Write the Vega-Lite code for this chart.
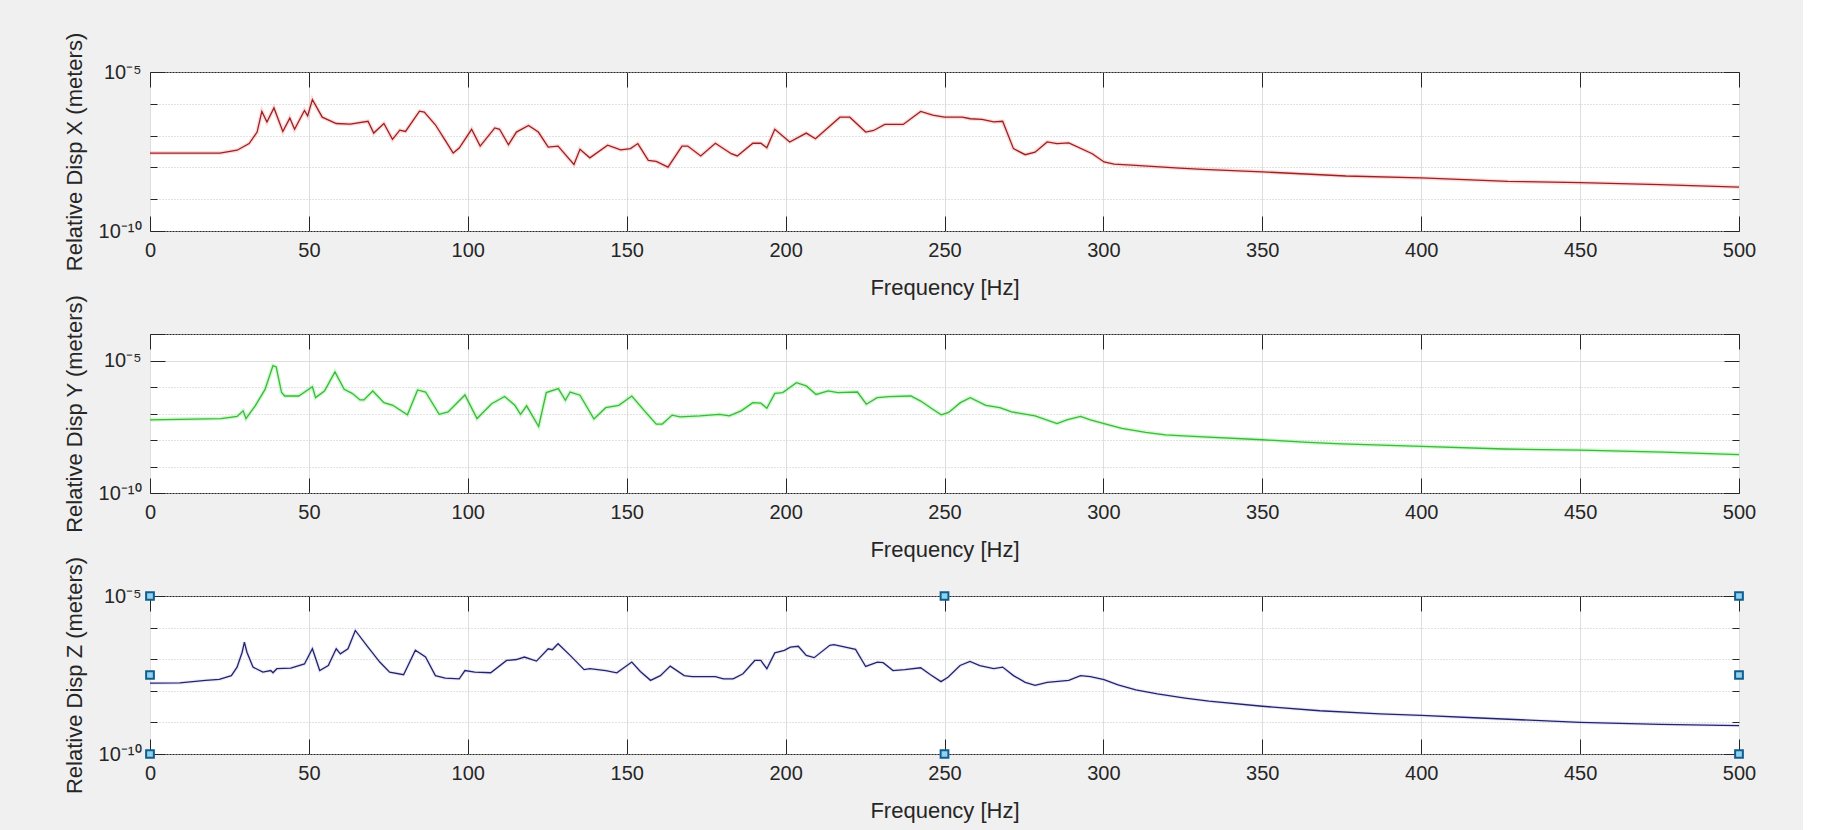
{
  "$schema": "https://vega.github.io/schema/vega-lite/v6.json",
  "background": "#f0f0f0",
  "padding": {"left": 62, "top": 31, "right": 46, "bottom": 12},
  "bounds": "flush",
  "spacing": 103,
  "datasets": {
    "red": [
      {"f":0,"v":2.82e-8},{"f":22,"v":2.82e-8},{"f":27.4,"v":3.47e-8},{"f":31.2,"v":5.62e-8},{"f":33.7,"v":1.29e-7},{"f":35.2,"v":5.75e-7},{"f":36.8,"v":2.69e-7},{"f":39.0,"v":7.41e-7},{"f":41.8,"v":1.35e-7},{"f":44.0,"v":3.55e-7},{"f":45.5,"v":1.58e-7},{"f":48.6,"v":6.17e-7},{"f":49.6,"v":4.17e-7},{"f":51.1,"v":1.35e-6},{"f":54.2,"v":3.80e-7},{"f":58.6,"v":2.40e-7},{"f":63.0,"v":2.29e-7},{"f":68.6,"v":2.82e-7},{"f":70.4,"v":1.20e-7},{"f":73.6,"v":2.40e-7},{"f":76.3,"v":7.59e-8},{"f":78.6,"v":1.48e-7},{"f":80.4,"v":1.35e-7},{"f":84.8,"v":5.89e-7},{"f":86.3,"v":5.50e-7},{"f":89.8,"v":2.19e-7},{"f":92.9,"v":7.08e-8},{"f":95.4,"v":2.82e-8},{"f":97.3,"v":4.07e-8},{"f":101.2,"v":1.58e-7},{"f":103.9,"v":4.68e-8},{"f":108.5,"v":1.74e-7},{"f":110.0,"v":1.58e-7},{"f":112.8,"v":5.13e-8},{"f":115.3,"v":1.29e-7},{"f":119.1,"v":2.09e-7},{"f":122.2,"v":1.29e-7},{"f":125.3,"v":4.37e-8},{"f":128.4,"v":4.68e-8},{"f":133.4,"v":1.23e-8},{"f":135.3,"v":3.72e-8},{"f":138.4,"v":2.00e-8},{"f":144.0,"v":5.01e-8},{"f":148.1,"v":3.55e-8},{"f":151.2,"v":3.89e-8},{"f":153.5,"v":5.62e-8},{"f":156.8,"v":1.66e-8},{"f":159.3,"v":1.55e-8},{"f":163.0,"v":1.02e-8},{"f":167.4,"v":4.68e-8},{"f":169.2,"v":4.68e-8},{"f":173.3,"v":2.29e-8},{"f":177.9,"v":5.75e-8},{"f":182.9,"v":2.69e-8},{"f":184.8,"v":2.29e-8},{"f":189.7,"v":5.75e-8},{"f":192.2,"v":5.75e-8},{"f":194.1,"v":4.17e-8},{"f":196.6,"v":1.58e-7},{"f":201.3,"v":6.31e-8},{"f":206.5,"v":1.20e-7},{"f":209.4,"v":7.94e-8},{"f":217.1,"v":3.80e-7},{"f":220.2,"v":3.80e-7},{"f":225.2,"v":1.29e-7},{"f":227.7,"v":1.45e-7},{"f":231.2,"v":2.24e-7},{"f":237.0,"v":2.24e-7},{"f":242.5,"v":5.75e-7},{"f":246.3,"v":4.37e-7},{"f":250.0,"v":3.80e-7},{"f":255.6,"v":3.80e-7},{"f":258.1,"v":3.39e-7},{"f":261.8,"v":3.24e-7},{"f":265.5,"v":2.69e-7},{"f":268.3,"v":2.82e-7},{"f":271.7,"v":3.89e-8},{"f":275.4,"v":2.51e-8},{"f":278.5,"v":3.02e-8},{"f":282.3,"v":6.31e-8},{"f":285.4,"v":5.62e-8},{"f":289.1,"v":5.89e-8},{"f":296.5,"v":2.69e-8},{"f":300.2,"v":1.48e-8},{"f":303.4,"v":1.26e-8},{"f":310.2,"v":1.15e-8},{"f":323.9,"v":9.55e-9},{"f":331.3,"v":8.71e-9},{"f":350,"v":7.24e-9},{"f":376.3,"v":5.37e-9},{"f":400,"v":4.68e-9},{"f":427.3,"v":3.63e-9},{"f":450,"v":3.31e-9},{"f":475.1,"v":2.88e-9},{"f":500,"v":2.40e-9}
    ],
    "green": [
      {"f":0,"v":5.75e-8},{"f":22.4,"v":6.46e-8},{"f":27.4,"v":7.76e-8},{"f":29.3,"v":1.26e-7},{"f":30.2,"v":6.46e-8},{"f":33.1,"v":1.95e-7},{"f":36.2,"v":8.13e-7},{"f":38.7,"v":6.46e-6},{"f":39.7,"v":5.75e-6},{"f":41.4,"v":6.17e-7},{"f":42.4,"v":4.57e-7},{"f":46.8,"v":4.57e-7},{"f":51.1,"v":1.02e-6},{"f":52.1,"v":3.98e-7},{"f":54.9,"v":7.08e-7},{"f":58.2,"v":3.72e-6},{"f":61.1,"v":8.13e-7},{"f":63.6,"v":5.75e-7},{"f":66.1,"v":3.24e-7},{"f":67.3,"v":3.24e-7},{"f":70.1,"v":7.08e-7},{"f":73.6,"v":2.57e-7},{"f":76.4,"v":2.04e-7},{"f":81.0,"v":8.91e-8},{"f":84.2,"v":7.76e-7},{"f":86.7,"v":6.46e-7},{"f":91.0,"v":9.33e-8},{"f":93.8,"v":1.15e-7},{"f":99.1,"v":5.01e-7},{"f":102.9,"v":6.46e-8},{"f":107.5,"v":2.34e-7},{"f":111.6,"v":4.37e-7},{"f":114.8,"v":2.04e-7},{"f":116.6,"v":9.33e-8},{"f":118.5,"v":1.95e-7},{"f":122.3,"v":3.24e-8},{"f":124.7,"v":6.17e-7},{"f":128.5,"v":8.71e-7},{"f":130.7,"v":3.16e-7},{"f":132.2,"v":6.46e-7},{"f":135.3,"v":4.90e-7},{"f":139.7,"v":6.17e-8},{"f":143.4,"v":1.66e-7},{"f":147.5,"v":2.04e-7},{"f":151.6,"v":4.57e-7},{"f":155.6,"v":1.26e-7},{"f":159.3,"v":3.98e-8},{"f":161.2,"v":3.98e-8},{"f":164.3,"v":8.71e-8},{"f":166.8,"v":7.41e-8},{"f":173.0,"v":8.13e-8},{"f":179.2,"v":9.33e-8},{"f":182.3,"v":8.13e-8},{"f":186.0,"v":1.26e-7},{"f":189.7,"v":2.57e-7},{"f":192.2,"v":2.45e-7},{"f":194.1,"v":1.58e-7},{"f":196.6,"v":5.75e-7},{"f":199.1,"v":6.17e-7},{"f":203.4,"v":1.45e-6},{"f":206.5,"v":1.10e-6},{"f":209.6,"v":5.25e-7},{"f":213.4,"v":7.08e-7},{"f":216.4,"v":6.17e-7},{"f":222.6,"v":6.46e-7},{"f":225.4,"v":2.24e-7},{"f":228.8,"v":3.98e-7},{"f":232.6,"v":4.37e-7},{"f":239.4,"v":4.57e-7},{"f":242.5,"v":2.95e-7},{"f":246.3,"v":1.45e-7},{"f":249.0,"v":8.91e-8},{"f":251.3,"v":1.10e-7},{"f":255.0,"v":2.57e-7},{"f":258.1,"v":3.98e-7},{"f":263.0,"v":2.04e-7},{"f":267.4,"v":1.66e-7},{"f":271.1,"v":1.15e-7},{"f":278.5,"v":8.13e-8},{"f":285.4,"v":4.17e-8},{"f":288.5,"v":5.75e-8},{"f":292.8,"v":7.76e-8},{"f":295.9,"v":5.75e-8},{"f":300.2,"v":4.17e-8},{"f":305.8,"v":2.75e-8},{"f":313.3,"v":1.95e-8},{"f":319.5,"v":1.55e-8},{"f":328.2,"v":1.38e-8},{"f":350,"v":1.02e-8},{"f":364.4,"v":8.13e-9},{"f":375.1,"v":7.08e-9},{"f":400,"v":5.75e-9},{"f":426.1,"v":4.57e-9},{"f":450,"v":4.17e-9},{"f":476.3,"v":3.47e-9},{"f":500,"v":2.82e-9}
    ],
    "blue": [
      {"f":0,"v":1.74e-8},{"f":9.4,"v":1.78e-8},{"f":17.5,"v":2.14e-8},{"f":21.8,"v":2.29e-8},{"f":25.6,"v":3.02e-8},{"f":27.4,"v":5.62e-8},{"f":29.0,"v":1.66e-7},{"f":29.7,"v":3.47e-7},{"f":30.5,"v":1.66e-7},{"f":32.4,"v":5.62e-8},{"f":35.5,"v":3.89e-8},{"f":38.0,"v":4.37e-8},{"f":38.7,"v":3.72e-8},{"f":39.9,"v":5.01e-8},{"f":44.3,"v":5.25e-8},{"f":48.6,"v":7.08e-8},{"f":51.1,"v":2.14e-7},{"f":53.4,"v":4.37e-8},{"f":56.1,"v":6.31e-8},{"f":58.6,"v":2.14e-7},{"f":59.9,"v":1.48e-7},{"f":62.3,"v":2.14e-7},{"f":64.6,"v":8.13e-7},{"f":68.6,"v":2.40e-7},{"f":72.3,"v":8.13e-8},{"f":75.4,"v":3.89e-8},{"f":79.8,"v":3.24e-8},{"f":83.5,"v":1.91e-7},{"f":86.7,"v":1.17e-7},{"f":89.8,"v":3.02e-8},{"f":92.9,"v":2.51e-8},{"f":97.3,"v":2.40e-8},{"f":99.1,"v":4.37e-8},{"f":102.2,"v":3.89e-8},{"f":107.2,"v":3.72e-8},{"f":112.2,"v":9.12e-8},{"f":115.3,"v":9.77e-8},{"f":117.8,"v":1.17e-7},{"f":121.6,"v":8.71e-8},{"f":125.3,"v":2.14e-7},{"f":126.6,"v":2.00e-7},{"f":128.4,"v":3.09e-7},{"f":132.2,"v":1.32e-7},{"f":136.6,"v":4.68e-8},{"f":138.4,"v":5.01e-8},{"f":143.4,"v":4.37e-8},{"f":146.9,"v":3.72e-8},{"f":151.6,"v":8.13e-8},{"f":154.3,"v":4.07e-8},{"f":157.5,"v":2.14e-8},{"f":160.6,"v":3.02e-8},{"f":163.7,"v":6.03e-8},{"f":168.1,"v":3.02e-8},{"f":170.6,"v":2.82e-8},{"f":177.9,"v":2.82e-8},{"f":180.4,"v":2.40e-8},{"f":183.5,"v":2.40e-8},{"f":186.6,"v":3.47e-8},{"f":190.3,"v":9.12e-8},{"f":192.2,"v":9.12e-8},{"f":194.1,"v":5.01e-8},{"f":196.6,"v":1.58e-7},{"f":199.6,"v":1.91e-7},{"f":201.5,"v":2.40e-7},{"f":204.0,"v":2.57e-7},{"f":206.5,"v":1.32e-7},{"f":209.0,"v":1.12e-7},{"f":213.9,"v":2.75e-7},{"f":215.2,"v":2.88e-7},{"f":222.0,"v":2.04e-7},{"f":225.2,"v":5.89e-8},{"f":228.9,"v":8.13e-8},{"f":230.7,"v":7.76e-8},{"f":233.8,"v":4.37e-8},{"f":237.5,"v":4.68e-8},{"f":242.5,"v":5.37e-8},{"f":245.6,"v":3.24e-8},{"f":248.9,"v":1.95e-8},{"f":251.1,"v":2.69e-8},{"f":254.9,"v":6.31e-8},{"f":258.0,"v":8.51e-8},{"f":261.1,"v":6.31e-8},{"f":265.5,"v":5.01e-8},{"f":268.3,"v":5.62e-8},{"f":271.7,"v":3.02e-8},{"f":275.4,"v":1.86e-8},{"f":278.5,"v":1.48e-8},{"f":282.3,"v":1.86e-8},{"f":289.1,"v":2.14e-8},{"f":292.8,"v":3.02e-8},{"f":295.9,"v":2.82e-8},{"f":300.2,"v":2.24e-8},{"f":304.6,"v":1.55e-8},{"f":310.2,"v":1.07e-8},{"f":317.0,"v":7.94e-9},{"f":325.7,"v":5.89e-9},{"f":333.2,"v":4.68e-9},{"f":350,"v":3.24e-9},{"f":368.1,"v":2.34e-9},{"f":387.0,"v":1.86e-9},{"f":400,"v":1.66e-9},{"f":418.5,"v":1.38e-9},{"f":450,"v":1.00e-9},{"f":475.1,"v":8.71e-10},{"f":500,"v":7.94e-10}
    ],
    "handles": [
      {"f":0,"v":1e-5},{"f":0,"v":3.162e-8},{"f":0,"v":1e-10},{"f":250,"v":1e-5},{"f":250,"v":1e-10},{"f":500,"v":1e-5},{"f":500,"v":3.162e-8},{"f":500,"v":1e-10}
    ]
  },
  "vconcat": [
    {
      "width": 1589, "height": 159,
      "data": {"name": "red"},
      "layer": [
        {"mark": {"type": "line", "stroke": "#f08a8a", "strokeWidth": 4, "opacity": 0.3},
         "encoding": {
           "x": {"field": "f", "type": "quantitative", "scale": {"domain": [0, 500], "nice": false, "zero": false},
                 "axis": {"orient": "top", "values": [0,50,100,150,200,250,300,350,400,450,500], "labels": false, "title": null, "grid": false, "tickSize": -15}},
           "y": {"field": "v", "type": "quantitative", "scale": {"type": "log", "domain": [1e-10, 1e-5], "nice": false},
                 "axis": {"orient": "right", "values": [1e-10,1e-9,1e-8,1e-7,1e-6,1e-5], "labels": false, "title": null, "grid": false,
                          "tickSize": {"condition": {"test": "datum.value == 1e-5 || datum.value == 1e-10", "value": -15}, "value": -7}}}
         }},
        {"mark": {"type": "line", "stroke": "#9e1f1f", "strokeWidth": 1.3},
         "encoding": {
           "x": {"field": "f", "type": "quantitative", "scale": {"domain": [0, 500], "nice": false, "zero": false},
                 "axis": {"orient": "bottom", "values": [0,50,100,150,200,250,300,350,400,450,500], "title": "Frequency [Hz]", "grid": true, "gridColor": "#dedede", "tickSize": -15, "labelPadding": 24, "titleY": 56, "titleBaseline": "middle"}},
           "y": {"field": "v", "type": "quantitative", "scale": {"type": "log", "domain": [1e-10, 1e-5], "nice": false},
                 "axis": {"orient": "left", "values": [1e-10,1e-9,1e-8,1e-7,1e-6,1e-5], "grid": true, "gridColor": "#c4c4c4", "gridDash": [1, 2],
                          "labelExpr": "datum.value == 1e-5 ? '10⁻⁵' : (datum.value == 1e-10 ? '10⁻¹⁰' : '')",
                          "tickSize": {"condition": {"test": "datum.value == 1e-5 || datum.value == 1e-10", "value": -15}, "value": -7},
                          "labelPadding": 24, "title": "Relative Disp X (meters)", "titleX": -69, "titleBaseline": "alphabetic"}}
         }}
      ],
      "resolve": {"axis": {"x": "independent", "y": "independent"}}
    },
    {
      "width": 1589, "height": 159,
      "data": {"name": "green"},
      "layer": [
        {"mark": {"type": "line", "stroke": "#8ef08e", "strokeWidth": 4, "opacity": 0.4},
         "encoding": {
           "x": {"field": "f", "type": "quantitative", "scale": {"domain": [0, 500], "nice": false, "zero": false},
                 "axis": {"orient": "top", "values": [0,50,100,150,200,250,300,350,400,450,500], "labels": false, "title": null, "grid": false, "tickSize": -15}},
           "y": {"field": "v", "type": "quantitative", "scale": {"type": "log", "domain": [1e-10, 1e-4], "nice": false},
                 "axis": {"orient": "right", "values": [1e-10,1e-9,1e-8,1e-7,1e-6,1e-5,1e-4], "labels": false, "title": null, "grid": false,
                          "tickSize": {"condition": {"test": "datum.value == 1e-5 || datum.value == 1e-10 || datum.value == 1e-4", "value": -15}, "value": -7}}}
         }},
        {"mark": {"type": "line", "stroke": "#3cb83c", "strokeWidth": 1.3},
         "encoding": {
           "x": {"field": "f", "type": "quantitative", "scale": {"domain": [0, 500], "nice": false, "zero": false},
                 "axis": {"orient": "bottom", "values": [0,50,100,150,200,250,300,350,400,450,500], "title": "Frequency [Hz]", "grid": true, "gridColor": "#dedede", "tickSize": -15, "labelPadding": 24, "titleY": 56, "titleBaseline": "middle"}},
           "y": {"field": "v", "type": "quantitative", "scale": {"type": "log", "domain": [1e-10, 1e-4], "nice": false},
                 "axis": {"orient": "left", "values": [1e-10,1e-9,1e-8,1e-7,1e-6,1e-5,1e-4], "grid": true,
                          "gridColor": {"condition": {"test": "datum.value == 1e-5", "value": "#dedede"}, "value": "#c4c4c4"},
                          "gridDash": {"condition": {"test": "datum.value == 1e-5", "value": []}, "value": [1, 2]},
                          "labelExpr": "datum.value == 1e-5 ? '10⁻⁵' : (datum.value == 1e-10 ? '10⁻¹⁰' : '')",
                          "tickSize": {"condition": {"test": "datum.value == 1e-5 || datum.value == 1e-10 || datum.value == 1e-4", "value": -15}, "value": -7},
                          "labelPadding": 24, "title": "Relative Disp Y (meters)", "titleX": -69, "titleBaseline": "alphabetic"}}
         }}
      ],
      "resolve": {"axis": {"x": "independent", "y": "independent"}}
    },
    {
      "width": 1589, "height": 158,
      "layer": [
        {"data": {"name": "blue"},
         "mark": {"type": "line", "stroke": "#b0b0e0", "strokeWidth": 3.5, "opacity": 0.25},
         "encoding": {
           "x": {"field": "f", "type": "quantitative", "scale": {"domain": [0, 500], "nice": false, "zero": false},
                 "axis": {"orient": "top", "values": [0,50,100,150,200,250,300,350,400,450,500], "labels": false, "title": null, "grid": false, "tickSize": -15}},
           "y": {"field": "v", "type": "quantitative", "scale": {"type": "log", "domain": [1e-10, 1e-5], "nice": false},
                 "axis": {"orient": "right", "values": [1e-10,1e-9,1e-8,1e-7,1e-6,1e-5], "labels": false, "title": null, "grid": false,
                          "tickSize": {"condition": {"test": "datum.value == 1e-5 || datum.value == 1e-10", "value": -15}, "value": -7}}}
         }},
        {"data": {"name": "blue"},
         "mark": {"type": "line", "stroke": "#23236e", "strokeWidth": 1.3},
         "encoding": {
           "x": {"field": "f", "type": "quantitative", "scale": {"domain": [0, 500], "nice": false, "zero": false},
                 "axis": {"orient": "bottom", "values": [0,50,100,150,200,250,300,350,400,450,500], "title": "Frequency [Hz]", "grid": true, "gridColor": "#dedede", "tickSize": -15, "labelPadding": 24, "titleY": 56, "titleBaseline": "middle"}},
           "y": {"field": "v", "type": "quantitative", "scale": {"type": "log", "domain": [1e-10, 1e-5], "nice": false},
                 "axis": {"orient": "left", "values": [1e-10,1e-9,1e-8,1e-7,1e-6,1e-5], "grid": true, "gridColor": "#c4c4c4", "gridDash": [1, 2],
                          "labelExpr": "datum.value == 1e-5 ? '10⁻⁵' : (datum.value == 1e-10 ? '10⁻¹⁰' : '')",
                          "tickSize": {"condition": {"test": "datum.value == 1e-5 || datum.value == 1e-10", "value": -15}, "value": -7},
                          "labelPadding": 24, "title": "Relative Disp Z (meters)", "titleX": -69, "titleBaseline": "alphabetic"}}
         }},
        {"data": {"name": "handles"},
         "mark": {"type": "point", "shape": "square", "filled": true, "fill": "#8fd3f2", "stroke": "#135d8c", "strokeWidth": 2, "size": 60, "opacity": 1},
         "encoding": {
           "x": {"field": "f", "type": "quantitative", "scale": {"domain": [0, 500], "nice": false, "zero": false}, "axis": null},
           "y": {"field": "v", "type": "quantitative", "scale": {"type": "log", "domain": [1e-10, 1e-5], "nice": false}, "axis": null}
         }}
      ],
      "resolve": {"axis": {"x": "independent", "y": "independent"}}
    }
  ],
  "config": {
    "font": "Liberation Sans, Arial, Helvetica, sans-serif",
    "view": {"stroke": "#262626", "strokeWidth": 1, "fill": "white"},
    "axis": {
      "domain": false,
      "labelFont": "Liberation Sans, Arial, sans-serif",
      "labelFontSize": 20,
      "labelColor": "#262626",
      "labelOverlap": false,
      "labelFlush": false,
      "titleFont": "Liberation Sans, Arial, sans-serif",
      "titleFontSize": 22,
      "titleFontWeight": "normal",
      "titleColor": "#262626",
      "tickColor": "#262626",
      "tickWidth": 1,
      "gridWidth": 1
    }
  }
}
